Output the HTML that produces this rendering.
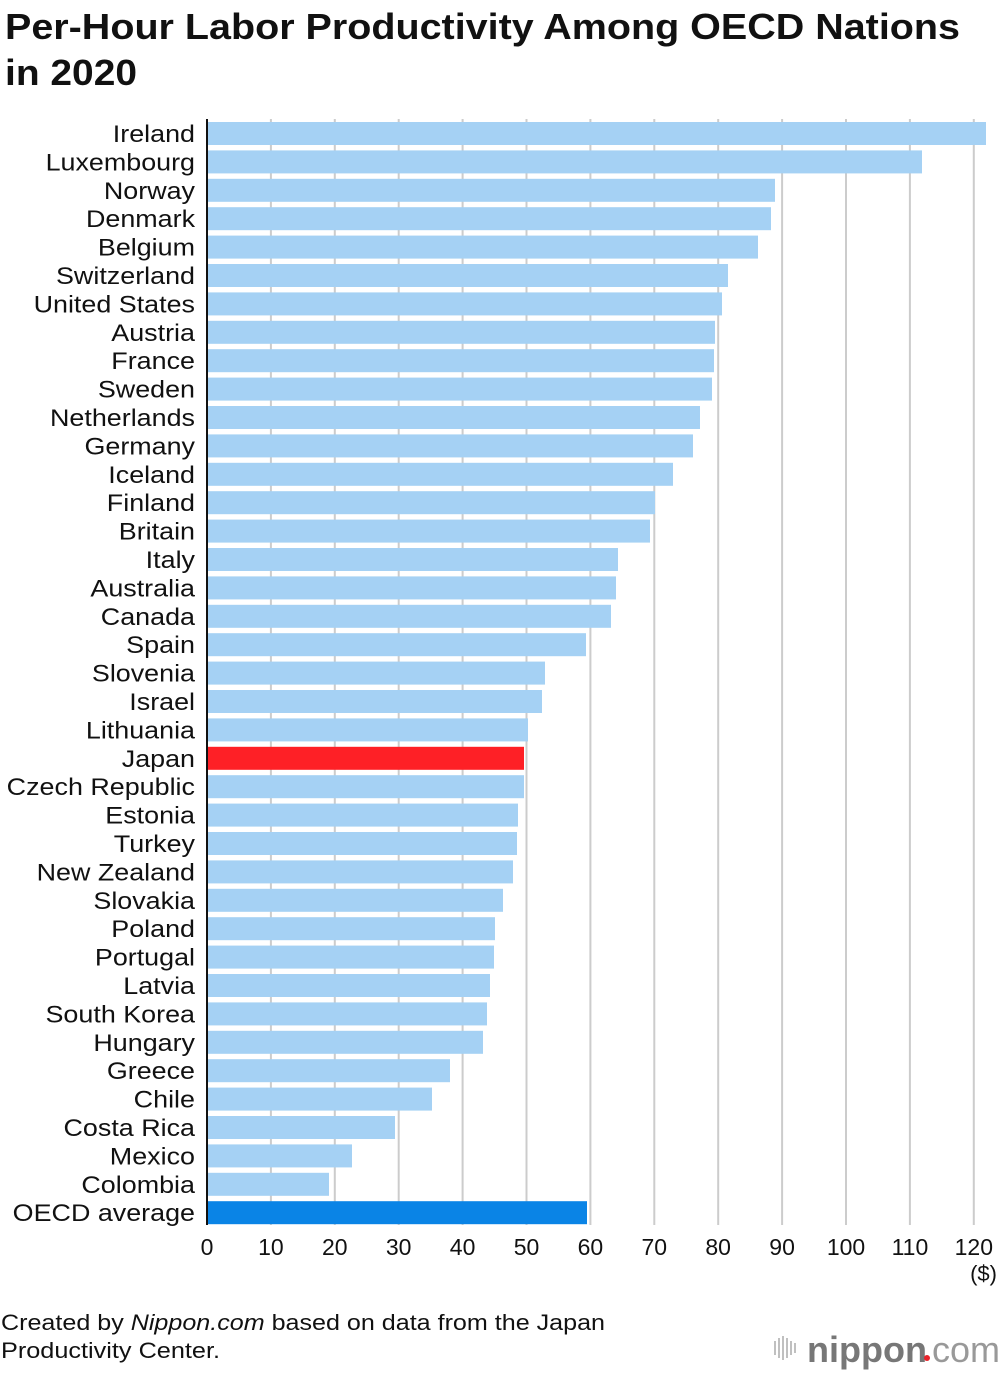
<!DOCTYPE html>
<html><head><meta charset="utf-8"><style>
body{margin:0;background:#fff;width:1000px;height:1374px;overflow:hidden}
svg{display:block;font-family:"Liberation Sans",Arial,sans-serif}
</style></head><body>
<svg width="1000" height="1374" viewBox="0 0 1000 1374">
<text x="5" y="39" font-size="36" font-weight="bold" fill="#111" textLength="955" lengthAdjust="spacingAndGlyphs">Per-Hour Labor Productivity Among OECD Nations</text>
<text x="5" y="85" font-size="36" font-weight="bold" fill="#111" textLength="132" lengthAdjust="spacingAndGlyphs">in 2020</text>
<g stroke="#ccc" stroke-width="2" id="grid"></g>
<g id="bars"></g>
<line x1="207" y1="119" x2="207" y2="1225" stroke="#111" stroke-width="2"/>
<g id="ticks" font-size="23" fill="#111" text-anchor="middle"></g>
<text x="997" y="1281" font-size="22" text-anchor="end" fill="#111">($)</text>
<text x="1" y="1330" font-size="22" fill="#111" textLength="604" lengthAdjust="spacingAndGlyphs">Created by <tspan font-style="italic">Nippon.com</tspan> based on data from the Japan</text>
<text x="1" y="1358" font-size="22" fill="#111" textLength="219" lengthAdjust="spacingAndGlyphs">Productivity Center.</text>
<g stroke="#aaa" stroke-width="1.5">
<line x1="775" y1="1341" x2="775" y2="1355"/><line x1="779" y1="1338" x2="779" y2="1358"/><line x1="783" y1="1336" x2="783" y2="1360"/><line x1="787" y1="1338" x2="787" y2="1358"/><line x1="791" y1="1341" x2="791" y2="1355"/><line x1="795" y1="1343" x2="795" y2="1353"/>
</g>
<text x="807" y="1362" font-size="36" fill="#777" font-weight="bold">nippon</text>
<circle cx="927" cy="1358" r="3" fill="#e8232a"/>
<text x="932" y="1362" font-size="36" fill="#999">com</text>
</svg>
<script>
var d=[["Ireland",986],["Luxembourg",922],["Norway",775],["Denmark",771],["Belgium",758],["Switzerland",728],["United States",722],["Austria",715],["France",714],["Sweden",712],["Netherlands",700],["Germany",693],["Iceland",673],["Finland",655],["Britain",650],["Italy",618],["Australia",616],["Canada",611],["Spain",586],["Slovenia",545],["Israel",542],["Lithuania",528],["Japan",524],["Czech Republic",524],["Estonia",518],["Turkey",517],["New Zealand",513],["Slovakia",503],["Poland",495],["Portugal",494],["Latvia",490],["South Korea",487],["Hungary",483],["Greece",450],["Chile",432],["Costa Rica",395],["Mexico",352],["Colombia",329],["OECD average",587]];
var ns="http://www.w3.org/2000/svg";
function el(t,a,p,txt){var e=document.createElementNS(ns,t);for(var k in a)e.setAttribute(k,a[k]);if(txt)e.textContent=txt;document.getElementById(p).appendChild(e);return e;}
for(var i=0;i<=12;i++){var x=207+i*63.9;if(i>0)el("line",{x1:x,y1:119,x2:x,y2:1225},"grid");el("text",{x:x,y:1255},"ticks",String(i*10));}
d.forEach(function(r,i){var y=122+i*28.4;var c=r[0]=="Japan"?"#fe2026":r[0]=="OECD average"?"#0a84e6":"#a5d1f4";
el("rect",{x:208,y:y,width:r[1]-208,height:23,fill:c},"bars");
var t=el("text",{x:195,y:y+20,"font-size":24,"text-anchor":"end",fill:"#111"},"bars",r[0]);
var w=t.getComputedTextLength();t.setAttribute("textLength",(w*1.12).toFixed(1));t.setAttribute("lengthAdjust","spacingAndGlyphs");});
</script>
</body></html>
